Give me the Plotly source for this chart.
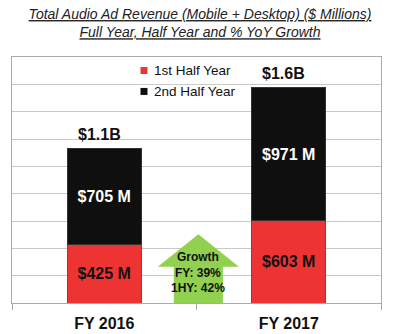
import plotly.graph_objects as go

categories = ["FY 2016", "FY 2017"]
first_half = [425, 603]
second_half = [705, 971]
series_names = ["1st Half Year", "2nd Half Year"]
growth_fy = "39%"
growth_1hy = "42%"

totals = [a + b for a, b in zip(first_half, second_half)]
xpos = [0, 1]
FONT = "Liberation Sans, Arial, sans-serif"
RED = "#EE3432"
BLACK = "#0F0F0F"
GREEN = "#92D050"

fig = go.Figure()
fig.add_trace(go.Bar(
    x=xpos, y=first_half, width=0.4, name=series_names[0],
    marker=dict(color=RED, line=dict(color="#FF1010", width=1)),
    text=[f"${v} M" for v in first_half], textposition="inside", insidetextanchor="middle",
    textfont=dict(color="#111111", size=16, family=FONT, weight="bold"),
    showlegend=False, constraintext="none"))
fig.add_trace(go.Bar(
    x=xpos, y=second_half, width=0.4, name=series_names[1],
    marker=dict(color=BLACK, line=dict(color="#333333", width=1)),
    text=[f"${v} M" for v in second_half], textposition="inside", insidetextanchor="middle",
    textfont=dict(color="white", size=16, family=FONT, weight="bold"),
    showlegend=False, constraintext="none"))

# growth arrow
cx, hw, sw, tip, hb = 0.51, 0.22, 0.133, 503, 265
fig.add_trace(go.Scatter(
    x=[cx - sw, cx - sw, cx - hw, cx, cx + hw, cx + sw, cx + sw, cx - sw],
    y=[0, hb, hb, tip, hb, hb, 0, 0],
    mode="lines", fill="toself", fillcolor=GREEN, line=dict(width=0),
    showlegend=False, hoverinfo="skip"))

fig.add_annotation(x=cx, y=222, xref="x", yref="y",
                   text=f"Growth<br>FY: {growth_fy}<br>1HY: {growth_1hy}",
                   showarrow=False, font=dict(size=12, family=FONT, color="#111111", weight="bold"))

for x, t in zip(xpos, totals):
    fig.add_annotation(x=x, y=t, text=f"${t/1000:.1f}B", showarrow=False, yanchor="bottom",
                       yshift=4, xshift=-5, font=dict(size=16, family=FONT, color="#111111", weight="bold"))

# manual legend
for name, color, ly in zip(series_names, [RED, BLACK], [0.945, 0.860]):
    fig.add_shape(type="rect", xref="paper", yref="paper", xsizemode="pixel", ysizemode="pixel",
                  xanchor=0.3577, yanchor=ly, x0=-3.5, x1=3.5, y0=-3.5, y1=3.5,
                  fillcolor=color, line=dict(width=0))
    fig.add_annotation(x=0.379, y=ly, xref="paper", yref="paper", xanchor="left", yanchor="middle",
                       text=name, showarrow=False, font=dict(size=13.5, family=FONT, color="#111111"))

fig.update_layout(
    width=400, height=334, barmode="stack",
    margin=dict(l=12, r=19, t=57, b=31, autoexpand=False),
    paper_bgcolor="white", plot_bgcolor="white", showlegend=False,
    title=dict(text="<i><u>Total Audio Ad Revenue (Mobile + Desktop) ($ Millions)</u></i><br>"
                    "<i><u>Full Year, Half Year and % YoY Growth</u></i>",
               x=0.5, xanchor="center", y=0.943, yanchor="top",
               font=dict(size=14, family=FONT, color="#222222")),
    xaxis=dict(range=[-0.5, 1.5], tickvals=xpos, ticktext=categories,
               ticks="outside", ticklen=6, tickcolor="rgba(0,0,0,0)",
               showline=True, mirror=True, linecolor="#AAAAAA", showgrid=False, zeroline=False,
               tickfont=dict(size=16, family=FONT, color="#111111", weight="bold")),
    xaxis2=dict(range=[-0.5, 1.5], overlaying="x", anchor="y", side="bottom",
                tickvals=[-0.5, 0.5, 1.5], ticks="outside", ticklen=6, tickcolor="#AAAAAA",
                showticklabels=False, showgrid=False, zeroline=False),
    yaxis=dict(range=[0, 1800], dtick=200, showticklabels=False, gridcolor="#C8C8C8",
               showline=True, mirror=True, linecolor="#AAAAAA", zeroline=False),
)
fig.add_trace(go.Scatter(x=[None], y=[None], xaxis="x2", showlegend=False))

fig.write_html("out.html")
